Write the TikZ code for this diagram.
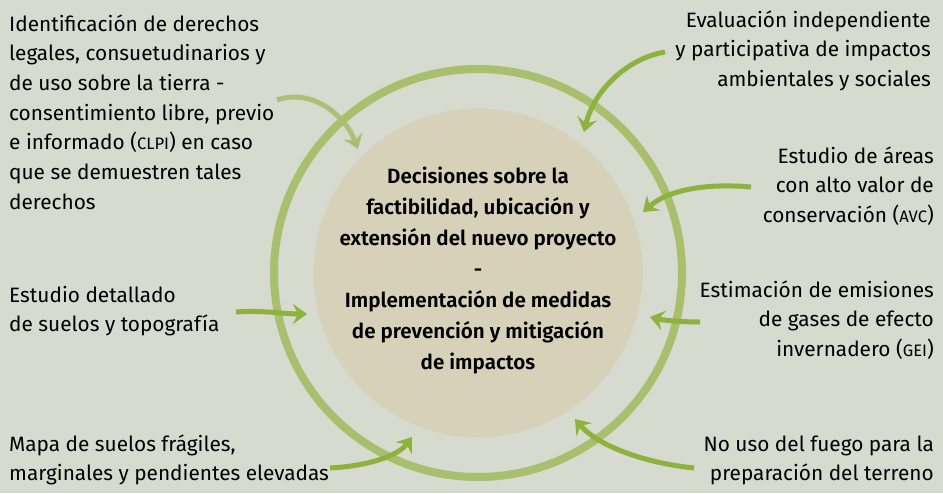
\documentclass[tikz,border=0pt]{standalone}
\usepackage{fontspec}
\setmainfont{Fira Sans}[BoldFont={Fira Sans SemiBold}]
\usetikzlibrary{arrows.meta}
\definecolor{bgcol}{RGB}{214,218,207}
\definecolor{ringcol}{RGB}{168,191,110}
\definecolor{corecol}{RGB}{214,209,184}
\definecolor{arrcol}{RGB}{141,178,62}
\newcommand{\abbr}[1]{{\fontsize{16.6}{16.6}\selectfont #1}}
\tikzset{
  txt/.style={inner sep=0pt, font=\fontsize{20.8}{29.7}\selectfont},
  lefttxt/.style={txt, anchor=north west, align=left},
  righttxt/.style={txt, anchor=north east, align=right},
  feed/.style={draw=arrcol, line width=5pt, -{Stealth[length=14pt,width=20pt,inset=5pt]}},
}

\begin{document}
\begin{tikzpicture}[x=1pt, y=-1pt]
   \fill[bgcol] (0,0) rectangle (943,493);
   \useasboundingbox (0,0) rectangle (943,493);
   % centre and ring
   \node (core) [circle, fill=corecol, inner sep=0pt, minimum size=329pt] at (478,273) {};
   \node (ring) [circle, draw=ringcol, line width=8pt, inner sep=0pt, minimum size=408pt] at (478,273) {};
   \node (goal) [txt, anchor=north, align=center, font=\bfseries\fontsize{20.6}{31}\selectfont] at (478,161.3)
     {\strut Decisiones sobre la\\factibilidad, ubicación y\\extensión del nuevo proyecto\\-\\Implementación de medidas\\de prevención y mitigación\\de impactos};

   % texts
   \begin{scope}
    \node (t1) [lefttxt] at (9,10.2) {\strut Identificación de derechos\\legales, consuetudinarios y\\de uso sobre la tierra -\\consentimiento libre, previo\\e informado (\abbr{CLPI}) en caso\\que se demuestren tales\\derechos};
    \node (t2) [righttxt] at (931,6.2) {\strut Evaluación independiente\\y participativa de impactos\\ambientales y sociales};
    \node (t3) [righttxt] at (934,142.2) {\strut Estudio de áreas\\con alto valor de\\conservación (\abbr{AVC})};
    \node (t4) [lefttxt] at (9,281.2) {\strut Estudio detallado\\de suelos y topografía};
    \node (t5) [righttxt] at (934,276.2) {\strut Estimación de emisiones\\de gases de efecto\\invernadero (\abbr{GEI})};
    \node (t6) [lefttxt] at (9,430.2) {\strut Mapa de suelos frágiles,\\marginales y pendientes elevadas};
    \node (t7) [righttxt] at (934,430.2) {\strut No uso del fuego para la\\preparación del terreno};
   \end{scope}

   % arrows
   \coordinate (s1) at (277,100);  \coordinate (e1) at (358,149);
   \coordinate (s2) at (665,52);   \coordinate (e2) at (584,132);
   \coordinate (s3) at (751,187);  \coordinate (e3) at (643,212);
   \coordinate (s4) at (236,312);  \coordinate (e4) at (307,314);
   \coordinate (s5) at (700,322);  \coordinate (e5) at (650,317);
   \coordinate (s6) at (330,468);  \coordinate (e6) at (412,437);
   \coordinate (s7) at (694,468);  \coordinate (e7) at (575,419);
   \begin{scope}[every path/.style={feed}]
    \draw[draw=ringcol, opacity=0.9] (s1) .. controls (312,88) and (345,115) .. (e1);
    \draw (s2) .. controls (628,58) and (594,90) .. (e2);
    \draw (s3) .. controls (705,183) and (668,190) .. (e3);
    \draw (s4) .. controls (262,310) and (285,314) .. (e4);
    \draw (s5) .. controls (680,322) and (662,320) .. (e5);
    \draw (s6) .. controls (368,466) and (398,456) .. (e6);
    \draw (s7) .. controls (645,463) and (598,446) .. (e7);
   \end{scope}
\end{tikzpicture}
\end{document}
